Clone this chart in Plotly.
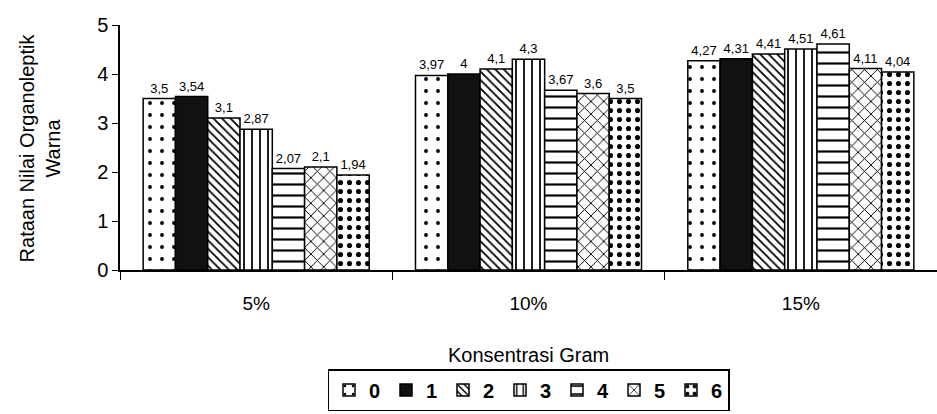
import plotly.graph_objects as go

categories = ["5%", "10%", "15%"]
series_names = ["0", "1", "2", "3", "4", "5", "6"]
values = {
    "0": [3.5, 3.97, 4.27],
    "1": [3.54, 4.0, 4.31],
    "2": [3.1, 4.1, 4.41],
    "3": [2.87, 4.3, 4.51],
    "4": [2.07, 3.67, 4.61],
    "5": [2.1, 3.6, 4.11],
    "6": [1.94, 3.5, 4.04],
}
y_ticks = [0, 1, 2, 3, 4, 5]

patterns = {
    "0": dict(shape=".", size=12, solidity=0.08),
    "1": dict(shape=""),
    "2": dict(shape="\\", size=6, solidity=0.3),
    "3": dict(shape="|", size=8, solidity=0.22),
    "4": dict(shape="-", size=11, solidity=0.2),
    "5": dict(shape="x", size=9, solidity=0.2),
    "6": dict(shape=".", size=9, solidity=0.25),
}

FONT = "Liberation Sans, Arial, sans-serif"


def fmt(v):
    s = f"{v:.2f}".rstrip("0").rstrip(".")
    return s.replace(".", ",")


fig = go.Figure()
for name in series_names:
    vals = values[name]
    p = patterns[name]
    if name == "1":
        marker = dict(color="#111111", line=dict(color="black", width=1.5))
    else:
        marker = dict(color="white", line=dict(color="black", width=1.5),
                      pattern=dict(shape=p["shape"], size=p["size"], solidity=p["solidity"],
                                   fgcolor="black", bgcolor="white", fillmode="replace"))
    fig.add_trace(go.Bar(
        x=categories, y=vals, name=name, marker=marker,
        text=[fmt(v) for v in vals],
        textposition="outside", constraintext="none",
        textfont=dict(size=13, color="black", family=FONT),
        cliponaxis=False,
    ))

fig.update_layout(
    width=937, height=414,
    margin=dict(l=120, r=0, t=25, b=144),
    paper_bgcolor="white", plot_bgcolor="white",
    barmode="group", bargap=0.17, bargroupgap=0,
    font=dict(family=FONT, color="black"),
    showlegend=True,
    legend=dict(orientation="h", x=0.5, xanchor="center", y=-0.49, yanchor="middle",
                bordercolor="black", borderwidth=1.5,
                font=dict(size=20, family=FONT, weight="bold"),
                traceorder="normal", itemwidth=30, entrywidthmode="pixels", entrywidth=12),
    xaxis=dict(showline=True, linecolor="black", linewidth=1.5, ticks="outside", ticklen=8,
               tickcolor="black", tickson="boundaries", tickfont=dict(size=19),
               ticklabelstandoff=15, showgrid=False),
    yaxis=dict(range=[0, 5], tickvals=y_ticks, showline=True, linecolor="black", linewidth=1.5,
               ticks="outside", ticklen=6, tickcolor="black", tickfont=dict(size=20),
               showgrid=False, zeroline=False),
    annotations=[
        dict(text="Konsentrasi Gram", xref="paper", yref="paper", x=0.5, y=-0.347,
             showarrow=False, font=dict(size=20), xanchor="center", yanchor="middle"),
        dict(text="Rataan Nilai Organoleptik<br>Warna", xref="paper", yref="paper",
             x=-0.098, y=0.5, textangle=-90, showarrow=False, font=dict(size=20),
             xanchor="center", yanchor="middle"),
    ],
)

fig.write_html("out.html")
